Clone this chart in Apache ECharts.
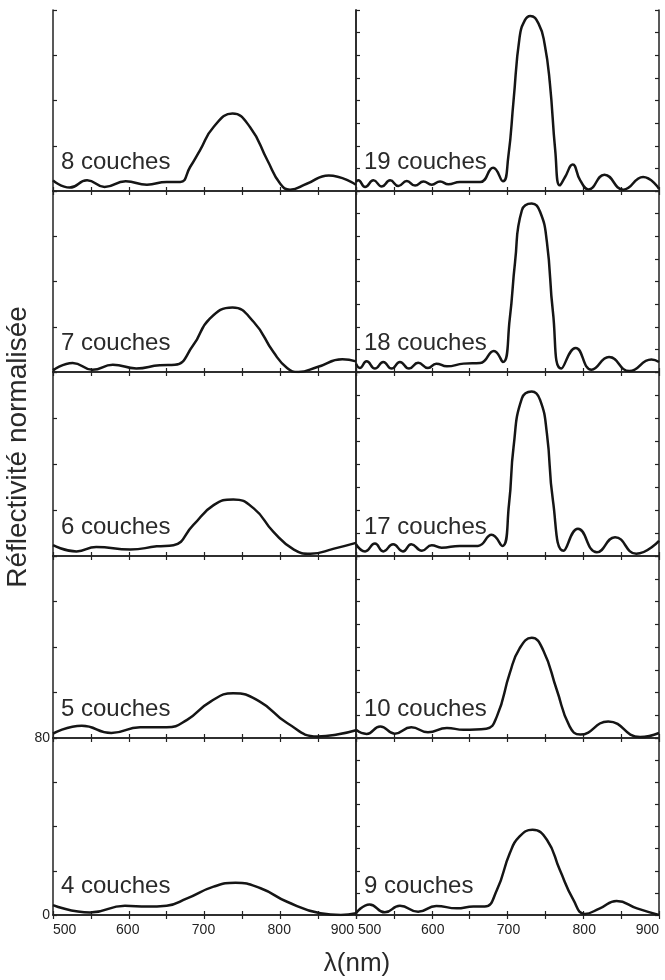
<!DOCTYPE html>
<html><head><meta charset="utf-8">
<script src="https://cdn.jsdelivr.net/npm/echarts@6/dist/echarts.min.js"></script>
<style>html,body{margin:0;padding:0;background:#fff}#c{width:665px;height:980px}</style>
</head><body><div id="c"></div>
<script>
// ---- data (wavelength nm / normalized reflectivity) ----
const panelLabels = ['8 couches','19 couches','7 couches','18 couches','6 couches','17 couches','5 couches','10 couches','4 couches','9 couches'];
const xTickValues = [500, 600, 700, 800, 900];
const yTickLabels = [0, 80];
const xTitle = 'λ(nm)';
const yTitle = 'Réflectivité normalisée';

const c8_x = [500,522,545,568,596,624,650,668,681,694,712,737,760,783,800,813,835,864,900];
const c8_y = [4.7,1.5,4.7,1.8,4.3,2.8,4.0,4.0,10.6,18,28.3,34.2,28.3,13.6,3.2,0.6,3.2,6.9,2.8];

const c7_x = [500,526,552,579,610,641,661,685,707,737,765,791,809,824,849,882,900];
const c7_y = [0.7,4,1,3.2,1.6,3,3.2,11.8,23.6,28.5,22.1,8.8,1.8,0,2.2,5.6,4.7];

const c6_x = [500,531,557,602,637,659,685,712,738,765,791,818,840,871,900];
const c6_y = [4.7,2,3.9,2.8,4.2,4.7,13.4,22.1,24.6,20.7,10.5,2.8,1,3.2,5.7];

const c5_x = [500,538,577,615,650,677,708,738,773,809,849,875,900];
const c5_y = [1.9,5.4,2.2,4.7,4.7,8,16,19.7,16,6.6,0.7,1.5,3.4];

const c4_x = [500,549,595,624,650,677,712,741,774,809,853,880,900];
const c4_y = [4.5,1.1,4.2,3.8,4.2,7.5,12.8,14.6,12.1,6,0.8,0,0.8];

const c19_x = [500,503,512,523,534,545,556,567,578,589,600,611,622,637,664,681,694,701,708,716,723,730,741,749,756,763,769,776,786,796,807,828,853,879,900];
const c19_y = [4.0,4.7,1.8,4.7,2.0,4.7,2.2,4.4,2.4,4.2,2.8,4.2,3.0,4.0,4.0,10.3,4.3,15,40,68,75.5,77.4,74,65,47.5,18,2.5,6.2,11.7,4.7,0.7,7.2,0.6,6.2,1];

const c18_x = [500,505,514,525,536,547,558,570,582,595,606,620,642,664,682,694,703,710,719,732,743,752,760,771,790,811,834,861,890,900];
const c18_y = [3.7,1.8,4.7,1.5,4.4,1.5,4.4,1.5,4.1,1.8,3.7,2.5,3.7,4.0,9.3,4.4,23.6,48.7,71.5,74.5,70.8,57.5,26.5,1.5,10.6,1,6.6,0.4,5.5,4.4];

const c17_x = [500,512,525,536,549,562,573,587,600,613,637,661,679,693,702,708,719,732,743,752,760,774,793,818,842,870,900];
const c17_y = [5.1,2,5.4,2,5.1,2,5.1,2.3,4.7,3.6,4.4,4.4,9.2,4.4,22.6,47.4,68.5,71.5,67.9,53.3,24.1,2.3,11.8,1.6,8.2,1,6.6];

const c10_x = [500,514,532,551,573,595,620,642,672,686,703,716,732,747,765,782,796,833,875,900];
const c10_y = [3.6,1.8,5.1,1.9,4.7,2.5,4.4,3.6,4.1,9.5,28.5,39.4,44.1,38.7,21.2,5.1,1.5,7.3,0.4,2.2];

const c9_x = [500,518,538,558,582,606,633,655,670,686,703,716,733,752,769,787,802,822,844,871,900];
const c9_y = [0.8,4.8,1.2,4.2,1.5,4.1,3,3.8,3.8,11.3,27.9,35.5,38.5,34,20.4,6.8,0.5,3,6.3,3,0];

const panelX = [c8_x,c19_x,c7_x,c18_x,c6_x,c17_x,c5_x,c10_x,c4_x,c9_x];
const panelY = [c8_y,c19_y,c7_y,c18_y,c6_y,c17_y,c5_y,c10_y,c4_y,c9_y];

// ---- layout ----
const colLeft = [53, 356];
const colWidth = [303, 303];
const rowTop = [10, 191, 372, 556, 738];
const rowBottom = [191, 372, 556, 738, 915];
const AX = '#222';
const FONT = '"Liberation Sans", Arial, sans-serif';

const grids = [], xAxes = [], yAxes = [], series = [], graphics = [];
for (let i = 0; i < 10; i++) {
  const col = i % 2, row = Math.floor(i / 2);
  const top = rowTop[row], h = rowBottom[row] - rowTop[row];
  grids.push({left: colLeft[col], top: top, width: colWidth[col], height: h, containLabel: false});
  const isBottom = row === 4;
  const axLine = {show: true, lineStyle: {color: AX, width: 1.5}};
  xAxes.push({
    type: 'value', gridIndex: i, position: 'bottom', min: 500, max: 900, interval: 50,
    axisLine: axLine, splitLine: {show: false},
    axisTick: {show: true, inside: true, length: 4, lineStyle: {color: AX, width: 1.2}},
    axisLabel: {show: isBottom, fontSize: 14, color: AX, fontFamily: FONT, margin: 8,
      alignMinLabel: 'left', alignMaxLabel: 'right',
      padding: col === 0 ? [0, 2, 0, 0] : [0, 0, 0, 2],
      formatter: v => xTickValues.indexOf(v) >= 0 ? String(v) : ''}
  });
  xAxes.push({
    type: 'value', gridIndex: i, position: 'top', min: 500, max: 900, interval: 50,
    axisLine: axLine, splitLine: {show: false},
    axisTick: {show: true, inside: true, length: 4, lineStyle: {color: AX, width: 1.2}},
    axisLabel: {show: false}
  });
  const showYLab = (row === 4 && col === 0);
  yAxes.push({
    type: 'value', gridIndex: i, position: 'left', min: 0, max: 80, interval: col === 0 ? 20 : 10,
    axisLine: axLine, splitLine: {show: false},
    axisTick: {show: true, inside: true, length: 4, lineStyle: {color: AX, width: 1.2}},
    axisLabel: {show: showYLab, fontSize: 14, color: AX, fontFamily: FONT, margin: 3,
      formatter: v => yTickLabels.indexOf(v) >= 0 ? String(v) : ''}
  });
  yAxes.push({
    type: 'value', gridIndex: i, position: 'right', min: 0, max: 80, interval: 10,
    axisLine: axLine, splitLine: {show: false},
    axisTick: {show: col === 1, inside: true, length: 4, lineStyle: {color: AX, width: 1.2}},
    axisLabel: {show: false}
  });
  const xs = panelX[i], ys = panelY[i];
  series.push({
    type: 'line', xAxisIndex: 2 * i, yAxisIndex: 2 * i,
    data: xs.map((x, k) => [x, ys[k]]),
    showSymbol: false, smooth: 0.5, clip: true,
    lineStyle: {color: '#151515', width: 2.5}, silent: true, animation: false
  });
  graphics.push({
    type: 'text', left: colLeft[col] + 8, top: rowBottom[row] - 29 - 12,
    style: {text: panelLabels[i], font: '24px ' + FONT, fill: '#2a2a2a'}
  });
}
graphics.push({
  type: 'text', x: 18, y: 447, rotation: Math.PI / 2,
  style: {text: yTitle, font: '28px ' + FONT, fill: '#2a2a2a', align: 'center', verticalAlign: 'middle'}
});
graphics.push({
  type: 'text', x: 357, y: 964,
  style: {text: xTitle, font: '26px ' + FONT, fill: '#2a2a2a', align: 'center', verticalAlign: 'middle'}
});

const chart = echarts.init(document.getElementById('c'), null, {renderer: 'canvas'});
chart.setOption({
  animation: false, backgroundColor: '#fff',
  grid: grids, xAxis: xAxes, yAxis: yAxes, series: series, graphic: graphics
});
</script></body></html>
